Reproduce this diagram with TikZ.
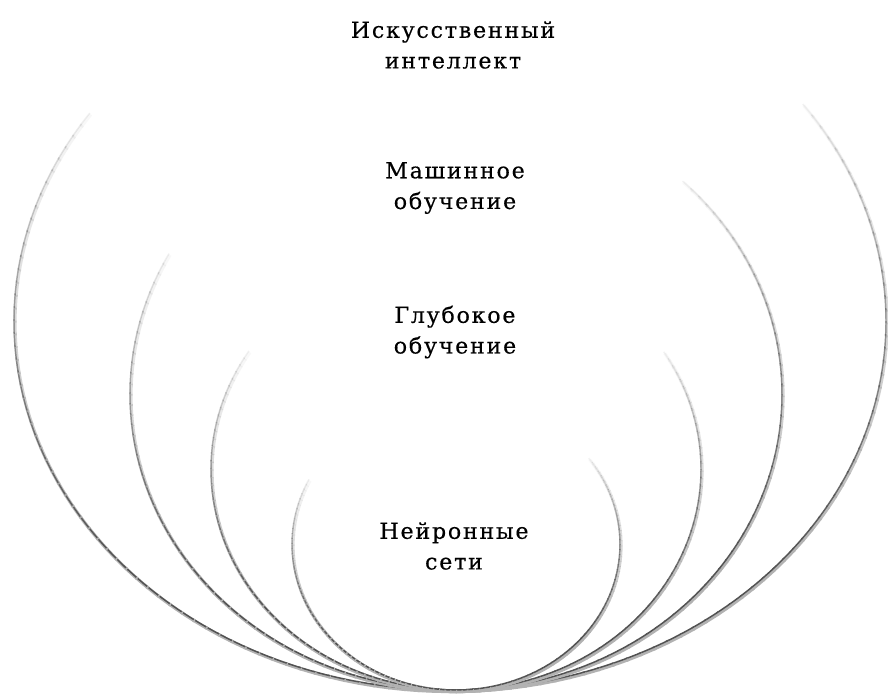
\documentclass[tikz,border=0pt]{standalone}
\usepackage{fontspec}
\setmainfont[LetterSpace=8,FakeBold=0.4]{DejaVu Serif}
\begin{document}
\begin{tikzpicture}[x=0.75pt,y=-0.75pt,
  arcmain/.style={draw=black!68, line width=1.1pt},
  arcshadow/.style={draw=black!30, line width=2.4pt},
  lbl/.style={align=center, font=\fontsize{16.6}{23}\selectfont, text=black, inner sep=0pt}]
\useasboundingbox (0,0) rectangle (888,696);
\fill[white] (0,0) rectangle (888,696);
\newcommand\fadearc[6]{%
  \pgfmathtruncatemacro\nseg{((#6)-(#5))/2}
  \foreach \i in {1,...,\nseg}{%
    \pgfmathsetmacro\ta{(#5)+2*(\i-1)}
    \pgfmathsetmacro\tb{\ta+2.3}
    \pgfmathsetmacro\tm{\ta+1}
    \pgfmathsetmacro\u{\tm<90 ? (90-\tm)/(90-(#5)) : (\tm-90)/((#6)-90)}
    \pgfmathsetmacro\op{\u<0.4 ? 1 : 1-0.94*(\u-0.4)/0.6}
    \draw[arcshadow, opacity=\op] ({#1+1+#3*cos(\ta)},{#2+1.5+#4*sin(\ta)}) arc[start angle=\ta, end angle=\tb, x radius=#3, y radius=#4];
    \draw[arcmain, opacity=\op] ({#1+#3*cos(\ta)},{#2+#4*sin(\ta)}) arc[start angle=\ta, end angle=\tb, x radius=#3, y radius=#4];
  }}
% outer: Искусственный интеллект
\fadearc{450}{321}{436}{369}{-36}{215}
% Машинное обучение
\fadearc{456}{394}{326}{296}{-46}{209}
% Глубокое обучение
\fadearc{456}{469}{245}{221}{-32}{212}
% Нейронные сети
\fadearc{456}{544}{164}{146}{-36}{207}
\node[lbl] (ai) at (453,45) {Искусственный\\интеллект};
\node[lbl] (ml) at (455,188) {Машинное\\обучение};
\node[lbl] (dl) at (455,332) {Глубокое\\обучение};
\node[lbl] (nn) at (454,546) {Нейронные\\сети};
\end{tikzpicture}
\end{document}
